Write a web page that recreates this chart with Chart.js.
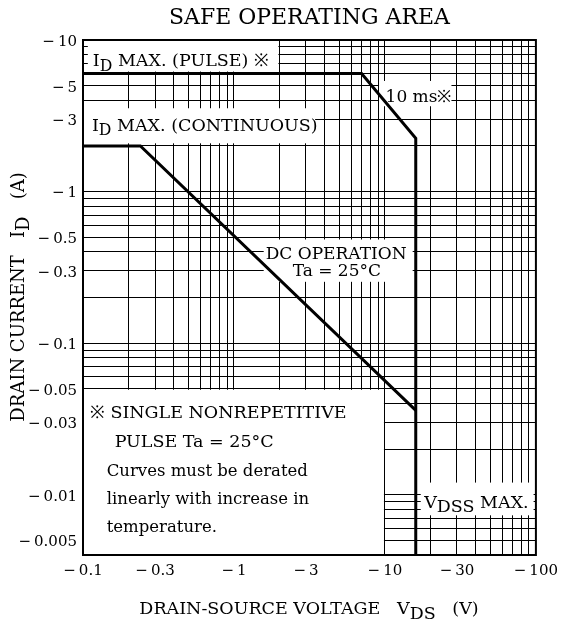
<!DOCTYPE html>
<html>
<head>
<meta charset="utf-8">
<script src="https://cdn.jsdelivr.net/npm/chart.js@4.4.1/dist/chart.umd.min.js"></script>
<style>
  html, body { margin: 0; padding: 0; background: #fff; }
</style>
</head>
<body>
<canvas id="soaChart" width="565" height="625"></canvas>
<script>
// drain-source voltage (V) / drain current (A) as magnitudes, shown with a minus sign
const pulseVds = [0.1, 7, 16, 16];
const pulseId = [6, 6, 2.25, 0.004];
const dcVds = [0.1, 0.24, 16];
const dcId = [2, 2, 0.036];

const xTickLabels = [0.1, 0.3, 1, 3, 10, 30, 100];
const yTickLabels = [10, 5, 3, 1, 0.5, 0.3, 0.1, 0.05, 0.03, 0.01, 0.005];
const gridSteps = [1, 2, 3, 4, 5, 6, 7, 8, 9];

const xMin = 0.1, xMax = 100;
const yMin = 0.004, yMax = 10;

const FONT = '"DejaVu Serif", "Liberation Serif", serif';

function logTicks(min, max) {
  const out = [];
  for (let e = Math.floor(Math.log10(min)); e <= Math.ceil(Math.log10(max)); e++) {
    gridSteps.forEach(m => {
      const v = parseFloat((m * Math.pow(10, e)).toPrecision(3));
      if (v >= min * 0.999 && v <= max * 1.001) out.push({ value: v });
    });
  }
  return out;
}

function tickText(labels) {
  return value => {
    const hit = labels.find(l => Math.abs(l - value) / l < 1e-6);
    return hit === undefined ? '' : '\u2212\u2009' + hit;
  };
}

// areas of the grid that are blanked out behind the notes (data units)
const blankAreas = [
  { x0: 0.106, x1: 2, y0: 6.1, y1: 10 },
  { x0: 0.1, x1: 3.5, y0: 2.05, y1: 3.6 },
  { x0: 9, x1: 28, y0: 3.6, y1: 5.45 },
  { x0: 1.55, x1: 15.5, y0: 0.25, y1: 0.49 },
  { x0: 0.1, x1: 10, y0: 0.004, y1: 0.05 },
  { x0: 17, x1: 98, y0: 0.0072, y1: 0.0122 }
];

// notes: parts are [text, subscript scale]
const notes = [
  { x: 0.1162, y: 7.38, size: 17.5, parts: [['I'], ['D', 0.9], [' MAX. (PULSE) \u203B']] },
  { x: 0.1146, y: 2.76, size: 17.5, parts: [['I'], ['D', 0.9], [' MAX. (CONTINUOUS)']] },
  { x: 10.1, y: 4.28, size: 17, parts: [['10 ms\u203B']] },
  { x: 4.75, y: 0.391, size: 17, align: 'center', parts: [['DC OPERATION']] },
  { x: 4.8, y: 0.302, size: 17, align: 'center', parts: [['Ta = 25\u00B0C']] },
  { x: 18.2, y: 0.009, size: 17.5, parts: [['V'], ['DSS', 1], [' MAX.']] },
  { x: 0.111, y: 0.0352, size: 17.5, parts: [['\u203B SINGLE NONREPETITIVE']] },
  { x: 0.162, y: 0.0226, size: 17.5, parts: [['PULSE Ta = 25\u00B0C']] },
  { x: 0.1436, y: 0.01459, size: 16.5, parts: [['Curves must be derated']] },
  { x: 0.1436, y: 0.00955, size: 16.5, parts: [['linearly with increase in']] },
  { x: 0.1436, y: 0.00625, size: 16.5, parts: [['temperature.']] }
];

function drawRich(ctx, parts, x, y, size, align) {
  // y is the centre of the capitals
  const widths = parts.map(([t, sub]) => {
    ctx.font = (sub ? size * sub : size) + 'px ' + FONT;
    return ctx.measureText(t).width;
  });
  const total = widths.reduce((a, b) => a + b, 0);
  let cx = align === 'center' ? x - total / 2 : x;
  const base = y + size * 0.36;
  parts.forEach(([t, sub], i) => {
    ctx.font = (sub ? size * sub : size) + 'px ' + FONT;
    ctx.fillText(t, cx, sub ? base + size * 0.25 : base);
    cx += widths[i];
  });
}

const sheetPlugin = {
  id: 'sheet',
  beforeDatasetsDraw(chart) {
    const { ctx, scales: { x, y } } = chart;
    ctx.save();
    ctx.fillStyle = '#fff';
    blankAreas.forEach(a => {
      const l = x.getPixelForValue(a.x0), r = x.getPixelForValue(a.x1);
      const t = y.getPixelForValue(a.y1), b = y.getPixelForValue(a.y0);
      ctx.fillRect(l + 1, t + 1, r - l - 2, b - t - 2);
    });
    ctx.restore();
  },
  afterDatasetsDraw(chart) {
    const { ctx, chartArea: ca, scales: { x, y } } = chart;
    ctx.save();
    ctx.strokeStyle = '#000';
    ctx.lineWidth = 2;
    ctx.strokeRect(ca.left, ca.top, ca.right - ca.left, ca.bottom - ca.top);

    ctx.fillStyle = '#000';
    ctx.textAlign = 'left';
    ctx.textBaseline = 'alphabetic';
    notes.forEach(n => {
      drawRich(ctx, n.parts, x.getPixelForValue(n.x), y.getPixelForValue(n.y), n.size, n.align);
    });

    // axis titles
    drawRich(ctx, [['DRAIN-SOURCE VOLTAGE   V'], ['DS', 1], ['   (V)']], 309, 608, 17.5, 'center');
    ctx.translate(18, 297);
    ctx.rotate(-Math.PI / 2);
    drawRich(ctx, [['DRAIN CURRENT   I'], ['D', 1], ['   (A)']], 0, 0, 18, 'center');
    ctx.restore();
  }
};

new Chart(document.getElementById('soaChart'), {
  type: 'scatter',
  data: {
    datasets: [{
      label: 'Pulse 10 ms',
      data: pulseVds.map((v, i) => ({ x: v, y: pulseId[i] })),
      showLine: true,
      borderColor: '#000',
      borderWidth: 3,
      pointRadius: 0,
      tension: 0,
      borderJoinStyle: 'miter'
    }, {
      label: 'DC operation',
      data: dcVds.map((v, i) => ({ x: v, y: dcId[i] })),
      showLine: true,
      borderColor: '#000',
      borderWidth: 3,
      pointRadius: 0,
      tension: 0,
      borderJoinStyle: 'miter'
    }]
  },
  options: {
    responsive: false,
    devicePixelRatio: 1,
    animation: false,
    layout: { padding: { left: 0, right: 24, top: 0, bottom: 0 } },
    plugins: {
      legend: { display: false },
      tooltip: { enabled: false },
      title: {
        display: true,
        text: 'SAFE OPERATING AREA',
        fullSize: false,
        color: '#000',
        font: { family: FONT, size: 22, weight: 'normal', lineHeight: 1.2 },
        padding: { top: 5, bottom: 8.6 }
      }
    },
    scales: {
      x: {
        type: 'logarithmic',
        min: xMin,
        max: xMax,
        afterBuildTicks: s => { s.ticks = logTicks(xMin, xMax); },
        afterFit: s => { s.height = 70; },
        border: { display: false },
        grid: { color: '#000', lineWidth: 1, drawTicks: false },
        ticks: {
          autoSkip: false,
          maxRotation: 0,
          padding: 7,
          color: '#000',
          font: { family: FONT, size: 15 },
          callback: tickText(xTickLabels)
        }
      },
      y: {
        type: 'logarithmic',
        min: yMin,
        max: yMax,
        afterBuildTicks: s => { s.ticks = logTicks(yMin, yMax); },
        afterFit: s => { s.width = 83; },
        border: { display: false },
        grid: { color: '#000', lineWidth: 1, drawTicks: false },
        ticks: {
          autoSkip: false,
          padding: 6,
          labelOffset: 2,
          color: '#000',
          font: { family: FONT, size: 15 },
          callback: tickText(yTickLabels)
        }
      }
    }
  },
  plugins: [sheetPlugin]
});
</script>
</body>
</html>
